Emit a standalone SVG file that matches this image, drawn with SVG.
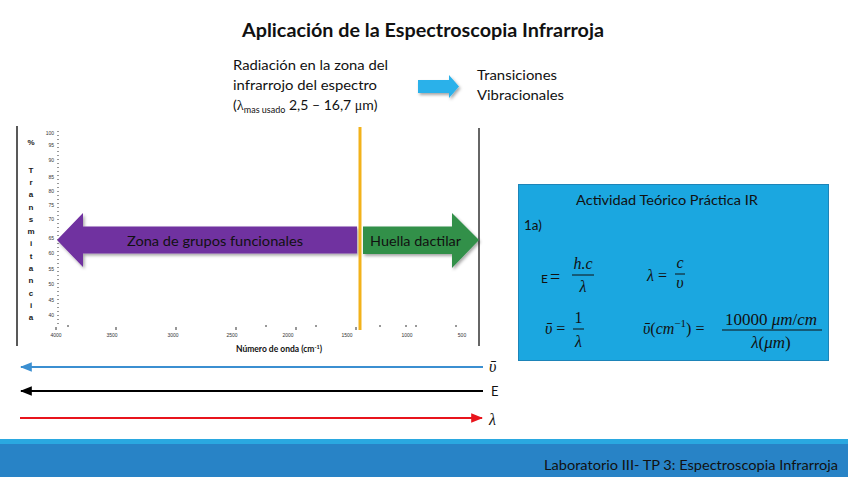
<svg xmlns="http://www.w3.org/2000/svg" width="848" height="477" viewBox="0 0 848 477">
<defs>
<style>
.t{font-family:Lato,"Liberation Sans",sans-serif;fill:#111}
.m{font-family:"Liberation Serif","DejaVu Serif",serif;font-style:italic;fill:#111}
.n{font-family:"Liberation Serif","DejaVu Serif",serif;font-style:normal;fill:#111}
.ax{font-family:"Liberation Sans",sans-serif;font-size:5px;fill:#333}
.yl{font-family:"Liberation Sans",sans-serif;font-size:8px;font-weight:bold;fill:#1a1a1a;text-anchor:middle}
</style>
<filter id="sh" x="-10%" y="-20%" width="130%" height="150%">
<feDropShadow dx="1.5" dy="2" stdDeviation="1.5" flood-color="#000" flood-opacity="0.35"/>
</filter>
<marker id="mb" viewBox="0 0 10 10" refX="9" refY="5" markerWidth="6" markerHeight="6" orient="auto-start-reverse"><path d="M0,1 L10,5 L0,9 z" fill="#3b8fd1"/></marker>
<marker id="mk" viewBox="0 0 10 10" refX="9" refY="5" markerWidth="6" markerHeight="6" orient="auto-start-reverse"><path d="M0,1 L10,5 L0,9 z" fill="#000"/></marker>
<marker id="mr" viewBox="0 0 10 10" refX="9" refY="5" markerWidth="6" markerHeight="6" orient="auto-start-reverse"><path d="M0,1 L10,5 L0,9 z" fill="#e8141c"/></marker>
</defs>
<rect width="848" height="477" fill="#fff"/>

<g id="title"><text class="t" x="423" y="37" font-size="18" font-weight="bold" text-anchor="middle" textLength="362" lengthAdjust="spacingAndGlyphs">Aplicación de la Espectroscopia Infrarroja</text></g>

<g id="radiacion">
<text class="t" x="233" y="70" font-size="14" textLength="155" lengthAdjust="spacingAndGlyphs">Radiación en la zona del</text>
<text class="t" x="233" y="90" font-size="14" textLength="144" lengthAdjust="spacingAndGlyphs">infrarrojo del espectro</text>
<text class="t" x="233" y="110" font-size="14">(<tspan font-family="'Liberation Serif',serif" font-size="14.5">λ</tspan><tspan font-size="9" dy="3">mas usado</tspan><tspan dy="-3"> 2,5 – 16,7 </tspan><tspan font-family="'Liberation Serif',serif">μ</tspan>m)</text>
</g>

<g id="flecha_azul"><path d="M418,80 L449,80 L449,75 L459,86.5 L449,98 L449,93 L418,93 Z" fill="#2ab1ea" filter="url(#sh)"/></g>

<g id="transiciones">
<text class="t" x="477" y="80" font-size="14" textLength="80" lengthAdjust="spacingAndGlyphs">Transiciones</text>
<text class="t" x="477" y="100" font-size="14" textLength="87" lengthAdjust="spacingAndGlyphs">Vibracionales</text>
</g>

<g id="grafico">
<line x1="17" y1="126" x2="17" y2="346" stroke="#222" stroke-width="1.5"/>
<line x1="479" y1="128" x2="479" y2="346" stroke="#333" stroke-width="1.5"/>
<text class="yl" x="31" y="145">%</text>
<text class="yl" x="31" y="173">T</text>
<text class="yl" x="31" y="185">r</text>
<text class="yl" x="31" y="197">a</text>
<text class="yl" x="31" y="210">n</text>
<text class="yl" x="31" y="222">s</text>
<text class="yl" x="31" y="234">m</text>
<text class="yl" x="31" y="246">i</text>
<text class="yl" x="31" y="259">t</text>
<text class="yl" x="31" y="271">a</text>
<text class="yl" x="31" y="283">n</text>
<text class="yl" x="31" y="296">c</text>
<text class="yl" x="31" y="308">i</text>
<text class="yl" x="31" y="320">a</text>
<g class="ax" text-anchor="end">
<text x="54" y="135">100</text><text x="54" y="147">95</text><text x="54" y="162">90</text><text x="54" y="179">85</text><text x="54" y="193">80</text><text x="54" y="207">75</text><text x="54" y="221">70</text><text x="54" y="240">65</text><text x="54" y="255">60</text><text x="54" y="271">55</text><text x="54" y="286">50</text><text x="54" y="302">45</text><text x="54" y="317">40</text>
</g>
<line x1="58" y1="131" x2="58" y2="324" stroke="#333" stroke-width="1" stroke-dasharray="1 3"/>
<g stroke="#333" stroke-width="1">
<line x1="56" y1="327" x2="56" y2="330"/><line x1="116" y1="327" x2="116" y2="330"/><line x1="176" y1="327" x2="176" y2="330"/><line x1="236" y1="327" x2="236" y2="330"/><line x1="266" y1="325" x2="266" y2="327"/><line x1="296" y1="327" x2="296" y2="330"/><line x1="316" y1="325" x2="316" y2="327"/><line x1="356" y1="327" x2="356" y2="330"/><line x1="380" y1="325" x2="380" y2="327"/><line x1="406" y1="325" x2="406" y2="327"/><line x1="416" y1="325" x2="416" y2="327"/><line x1="456" y1="325" x2="456" y2="327"/><line x1="68" y1="325" x2="68" y2="327"/>
</g>
<g class="ax" text-anchor="middle">
<text x="56" y="337">4000</text><text x="112" y="337">3500</text><text x="173" y="337">3000</text><text x="232" y="337">2500</text><text x="288" y="337">2000</text><text x="347" y="337">1500</text><text x="407" y="337">1000</text><text x="462" y="337">500</text>
</g>
<text x="279" y="352" font-family="Lato,'Liberation Sans',sans-serif" font-size="8.5" font-weight="bold" fill="#111" text-anchor="middle">Número de onda (cm<tspan font-size="5.5" dy="-3">-1</tspan><tspan dy="3">)</tspan></text>
</g>

<g id="zona_grupos">
<path d="M357,226.5 L83,226.5 L83,213 L57,240 L83,267 L83,253.5 L357,253.5 Z" fill="#7030a0" filter="url(#sh)"/>
<text class="t" x="215" y="246" font-size="14" text-anchor="middle" textLength="176" lengthAdjust="spacingAndGlyphs">Zona de grupos funcionales</text>
</g>

<g id="huella">
<path d="M363,226.5 L452,226.5 L452,213 L479,240 L452,268 L452,254 L363,254 Z" fill="#31904a" filter="url(#sh)"/>
<text class="t" x="370" y="246" font-size="14" textLength="91" lengthAdjust="spacingAndGlyphs">Huella dactilar</text>
</g>

<g id="linea_amarilla"><line x1="360" y1="127" x2="360" y2="330" stroke="#f2b21b" stroke-width="3"/></g>

<g id="actividad">
<rect x="518.5" y="184.5" width="310" height="176" fill="#1ba7e0" stroke="#1d84b8" stroke-width="1"/>
<text class="t" x="667" y="205" font-size="13.5" text-anchor="middle" textLength="182" lengthAdjust="spacingAndGlyphs">Actividad Teórico Práctica IR</text>
<text class="t" x="524" y="230" font-size="13.5">1a)</text>
<text class="t" x="541" y="283" font-size="12">E</text>
<text class="n" x="550" y="283" font-size="18">=</text>
<text class="m" x="583" y="269" font-size="16" text-anchor="middle">h.c</text>
<line x1="572" y1="275" x2="594" y2="275" stroke="#111" stroke-width="1"/>
<text class="m" x="583" y="292" font-size="16" text-anchor="middle">λ</text>
<text class="m" x="647" y="281" font-size="16">λ <tspan font-style="normal">=</tspan></text>
<text class="m" x="680" y="268" font-size="16" text-anchor="middle">c</text>
<line x1="675" y1="274" x2="685" y2="274" stroke="#111" stroke-width="1"/>
<text class="m" x="680" y="288" font-size="16" text-anchor="middle">υ</text>
<text class="m" x="545" y="334" font-size="16">ῡ <tspan font-style="normal">=</tspan></text>
<text class="n" x="578.5" y="323" font-size="16" text-anchor="middle">1</text>
<line x1="573" y1="329" x2="584" y2="329" stroke="#111" stroke-width="1"/>
<text class="m" x="578.5" y="347" font-size="16" text-anchor="middle">λ</text>
<text class="m" x="643" y="334" font-size="16">ῡ<tspan font-style="normal">(</tspan>cm<tspan font-size="11" dy="-7" font-style="normal">−1</tspan><tspan dy="7" font-style="normal">) =</tspan></text>
<text class="m" x="771" y="325" font-size="17" text-anchor="middle"><tspan font-style="normal">10000 </tspan>μm<tspan font-style="normal">/</tspan>cm</text>
<line x1="722" y1="330" x2="822" y2="330" stroke="#111" stroke-width="1"/>
<text class="m" x="771" y="348" font-size="17" text-anchor="middle">λ<tspan font-style="normal">(</tspan>μm<tspan font-style="normal">)</tspan></text>
</g>

<g id="conectores">
<line x1="483" y1="367" x2="21" y2="367" stroke="#3b8fd1" stroke-width="2" marker-end="url(#mb)"/>
<line x1="483" y1="391" x2="21" y2="391" stroke="#000" stroke-width="2" marker-end="url(#mk)"/>
<line x1="20" y1="418" x2="482" y2="418" stroke="#e8141c" stroke-width="2" marker-end="url(#mr)"/>
</g>
<g id="etiquetas_ejes">
<text class="m" x="489" y="372" font-size="16">ῡ</text>
<text class="t" x="491" y="396" font-size="13">E</text>
<text class="m" x="489" y="425" font-size="16">λ</text>
</g>

<g id="pie">
<rect x="0" y="439" width="848" height="6" fill="#2aa8e0"/>
<rect x="0" y="444" width="848" height="33" fill="#2883c6"/>
<text class="t" x="838" y="470" font-size="13" text-anchor="end" textLength="294" lengthAdjust="spacingAndGlyphs">Laboratorio III- TP 3: Espectroscopia Infrarroja</text>
</g>
</svg>
